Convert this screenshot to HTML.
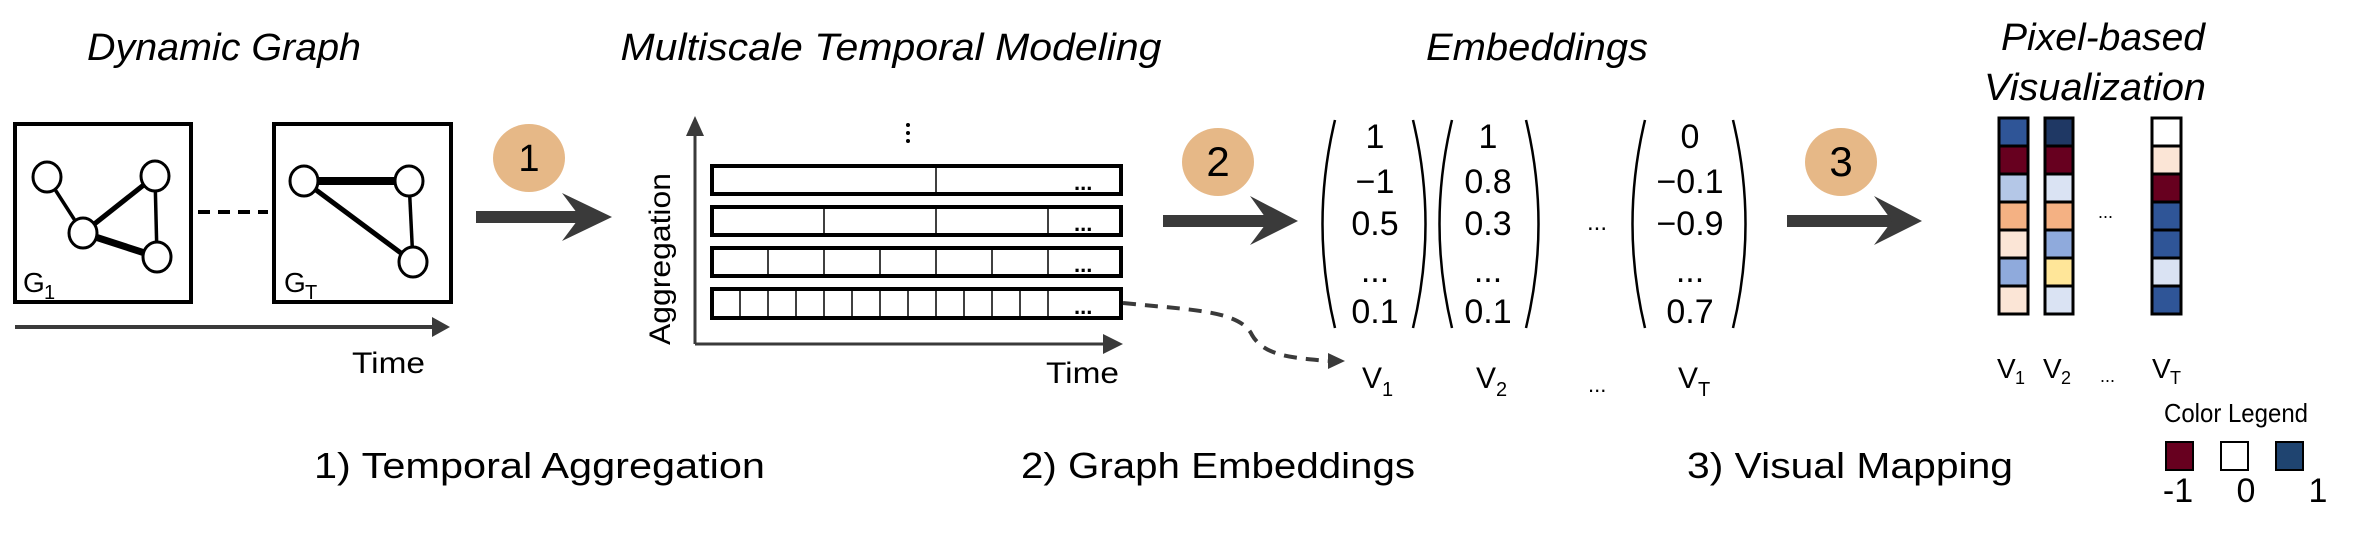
<!DOCTYPE html>
<html><head><meta charset="utf-8"><style>
html,body{margin:0;padding:0;background:#fff;}
svg{display:block;}
text{font-family:"Liberation Sans",sans-serif;fill:#000;}
</style></head><body>
<svg width="2375" height="535" viewBox="0 0 2375 535" xmlns="http://www.w3.org/2000/svg">
<!-- Titles -->
<text x="224" y="60" font-size="38" font-style="italic" text-anchor="middle" textLength="274" lengthAdjust="spacingAndGlyphs">Dynamic Graph</text>
<text x="891" y="60" font-size="38" font-style="italic" text-anchor="middle" textLength="541" lengthAdjust="spacingAndGlyphs">Multiscale Temporal Modeling</text>
<text x="1537" y="60" font-size="38" font-style="italic" text-anchor="middle" textLength="222" lengthAdjust="spacingAndGlyphs">Embeddings</text>
<text x="2103" y="50" font-size="38" font-style="italic" text-anchor="middle" textLength="204" lengthAdjust="spacingAndGlyphs">Pixel-based</text>
<text x="2095" y="100" font-size="38" font-style="italic" text-anchor="middle" textLength="222" lengthAdjust="spacingAndGlyphs">Visualization</text>

<!-- Graph boxes -->
<rect x="15" y="124" width="176" height="178" fill="none" stroke="#000" stroke-width="4"/>
<rect x="274" y="124" width="177" height="178" fill="none" stroke="#000" stroke-width="4"/>
<line x1="198" y1="212" x2="268" y2="212" stroke="#000" stroke-width="4" stroke-dasharray="12,8"/>
<g stroke="#000" fill="#fff">
<line x1="47" y1="177" x2="83" y2="233" stroke-width="3.5"/>
<line x1="83" y1="233" x2="155" y2="176" stroke-width="5"/>
<line x1="155" y1="176" x2="157" y2="257" stroke-width="3.5"/>
<line x1="83" y1="233" x2="157" y2="257" stroke-width="7"/>
<ellipse cx="47" cy="177" rx="14" ry="15" stroke-width="3"/>
<ellipse cx="155" cy="176" rx="14" ry="15" stroke-width="3"/>
<ellipse cx="83" cy="233" rx="14" ry="15" stroke-width="3"/>
<ellipse cx="157" cy="257" rx="14" ry="15" stroke-width="3"/>
<line x1="304" y1="181" x2="409" y2="181" stroke-width="8"/>
<line x1="304" y1="181" x2="413" y2="262" stroke-width="5"/>
<line x1="409" y1="181" x2="413" y2="262" stroke-width="3.5"/>
<ellipse cx="304" cy="181" rx="14" ry="15" stroke-width="3"/>
<ellipse cx="409" cy="181" rx="14" ry="15" stroke-width="3"/>
<ellipse cx="413" cy="262" rx="14" ry="15" stroke-width="3"/>
</g>
<text x="23" y="292" font-size="28">G</text><text x="44" y="299" font-size="20">1</text>
<text x="284" y="292" font-size="28">G</text><text x="305" y="299" font-size="20">T</text>
<!-- time arrow -->
<line x1="15" y1="327" x2="435" y2="327" stroke="#3a3a3a" stroke-width="4"/>
<polygon points="432,317 450,327 432,337" fill="#3a3a3a"/>
<text x="352" y="373" font-size="30" textLength="73" lengthAdjust="spacingAndGlyphs">Time</text>

<!-- circles + arrows -->
<ellipse cx="529" cy="158" rx="36" ry="34" fill="#E6B887"/>
<text x="529" y="171" font-size="38" text-anchor="middle">1</text>
<ellipse cx="1218" cy="162" rx="36" ry="34" fill="#E6B887"/>
<text x="1218" y="176" font-size="42" text-anchor="middle">2</text>
<ellipse cx="1841" cy="162" rx="36" ry="34" fill="#E6B887"/>
<text x="1841" y="176" font-size="42" text-anchor="middle">3</text>
<g fill="#3a3a3a">
<rect x="476" y="211" width="110" height="12"/>
<polygon points="562,193 612,217 562,241 580,217"/>
<rect x="1163" y="215" width="110" height="12"/>
<polygon points="1250,196 1298,221 1250,245 1268,221"/>
<rect x="1787" y="215" width="110" height="12"/>
<polygon points="1874,196 1922,221 1874,245 1892,221"/>
</g>

<!-- axes -->
<line x1="695" y1="125" x2="695" y2="344" stroke="#3a3a3a" stroke-width="3"/>
<polygon points="686,136 695,116 704,136" fill="#3a3a3a"/>
<line x1="695" y1="344" x2="1110" y2="344" stroke="#3a3a3a" stroke-width="3"/>
<polygon points="1103,334 1123,344 1103,354" fill="#3a3a3a"/>
<text transform="translate(670,259) rotate(-90)" font-size="30" text-anchor="middle" textLength="172" lengthAdjust="spacingAndGlyphs">Aggregation</text>
<text x="1046" y="383" font-size="30" textLength="73" lengthAdjust="spacingAndGlyphs">Time</text>
<g fill="#000"><circle cx="908" cy="125" r="2"/><circle cx="908" cy="133" r="2"/><circle cx="908" cy="141" r="2"/></g>

<!-- bars -->
<g fill="none" stroke="#000">
<rect x="712" y="166" width="409" height="28" stroke-width="4"/>
<rect x="712" y="207" width="409" height="28" stroke-width="4"/>
<rect x="712" y="248" width="409" height="28" stroke-width="4"/>
<rect x="712" y="289" width="409" height="29" stroke-width="4"/>
<g stroke-width="1.5">
<line x1="936" y1="166" x2="936" y2="194"/>
<line x1="824" y1="207" x2="824" y2="235"/><line x1="936" y1="207" x2="936" y2="235"/><line x1="1048" y1="207" x2="1048" y2="235"/>
<line x1="768" y1="248" x2="768" y2="276"/><line x1="824" y1="248" x2="824" y2="276"/><line x1="880" y1="248" x2="880" y2="276"/><line x1="936" y1="248" x2="936" y2="276"/><line x1="992" y1="248" x2="992" y2="276"/><line x1="1048" y1="248" x2="1048" y2="276"/>
<line x1="740" y1="289" x2="740" y2="318"/><line x1="768" y1="289" x2="768" y2="318"/><line x1="796" y1="289" x2="796" y2="318"/><line x1="824" y1="289" x2="824" y2="318"/><line x1="852" y1="289" x2="852" y2="318"/><line x1="880" y1="289" x2="880" y2="318"/><line x1="908" y1="289" x2="908" y2="318"/><line x1="936" y1="289" x2="936" y2="318"/><line x1="964" y1="289" x2="964" y2="318"/><line x1="992" y1="289" x2="992" y2="318"/><line x1="1020" y1="289" x2="1020" y2="318"/><line x1="1048" y1="289" x2="1048" y2="318"/>
</g></g>
<g font-size="22" font-weight="bold">
<text x="1074" y="190">...</text><text x="1074" y="231">...</text><text x="1074" y="272">...</text><text x="1074" y="314">...</text>
</g>
<!-- dashed curve -->
<path d="M1123,303 C1190,310 1240,310 1252,335 C1265,358 1300,358 1328,361" fill="none" stroke="#3a3a3a" stroke-width="4" stroke-dasharray="13,9"/>
<polygon points="1328,353 1345,361 1328,369" fill="#3a3a3a"/>

<!-- matrices -->
<g fill="none" stroke="#000" stroke-width="2.5">
<path d="M1335,120 Q1310,224 1335,328"/><path d="M1413,120 Q1438,224 1413,328"/>
<path d="M1452,120 Q1427,224 1452,328"/><path d="M1526,120 Q1551,224 1526,328"/>
<path d="M1645,120 Q1620,224 1645,328"/><path d="M1733,120 Q1758,224 1733,328"/>
</g>
<g font-size="34" text-anchor="middle">
<text x="1375" y="148">1</text><text x="1375" y="193">−1</text><text x="1375" y="235">0.5</text><text x="1375" y="282">...</text><text x="1375" y="323">0.1</text>
<text x="1488" y="148">1</text><text x="1488" y="193">0.8</text><text x="1488" y="235">0.3</text><text x="1488" y="282">...</text><text x="1488" y="323">0.1</text>
<text x="1690" y="148">0</text><text x="1690" y="193">−0.1</text><text x="1690" y="235">−0.9</text><text x="1690" y="282">...</text><text x="1690" y="323">0.7</text>
<text x="1597" y="230" font-size="24">...</text>
</g>
<g font-size="30">
<text x="1362" y="388">V</text><text x="1382" y="396" font-size="20">1</text>
<text x="1476" y="388">V</text><text x="1496" y="396" font-size="20">2</text>
<text x="1588" y="392" font-size="22">...</text>
<text x="1678" y="388">V</text><text x="1698" y="396" font-size="20">T</text>
</g>

<!-- pixel columns -->
<g stroke="#000" stroke-width="3">
<rect x="1999" y="118" width="29" height="28" fill="#2F5597"/>
<rect x="1999" y="146" width="29" height="28" fill="#67001F"/>
<rect x="1999" y="174" width="29" height="28" fill="#B4C7E7"/>
<rect x="1999" y="202" width="29" height="28" fill="#F4B183"/>
<rect x="1999" y="230" width="29" height="28" fill="#FBE5D6"/>
<rect x="1999" y="258" width="29" height="28" fill="#8FAADC"/>
<rect x="1999" y="286" width="29" height="28" fill="#FBE5D6"/>
<rect x="2045" y="118" width="28" height="28" fill="#1F3864"/>
<rect x="2045" y="146" width="28" height="28" fill="#67001F"/>
<rect x="2045" y="174" width="28" height="28" fill="#DAE3F3"/>
<rect x="2045" y="202" width="28" height="28" fill="#F4B183"/>
<rect x="2045" y="230" width="28" height="28" fill="#8FAADC"/>
<rect x="2045" y="258" width="28" height="28" fill="#FFE699"/>
<rect x="2045" y="286" width="28" height="28" fill="#DAE3F3"/>
<rect x="2152" y="118" width="29" height="28" fill="#FFFFFF"/>
<rect x="2152" y="146" width="29" height="28" fill="#FBE5D6"/>
<rect x="2152" y="174" width="29" height="28" fill="#67001F"/>
<rect x="2152" y="202" width="29" height="28" fill="#2F5597"/>
<rect x="2152" y="230" width="29" height="28" fill="#2F5597"/>
<rect x="2152" y="258" width="29" height="28" fill="#DAE3F3"/>
<rect x="2152" y="286" width="29" height="28" fill="#2F5597"/>
</g>
<text x="2098" y="218" font-size="18">...</text>
<g font-size="28">
<text x="1997" y="378">V</text><text x="2015" y="384" font-size="18">1</text>
<text x="2043" y="378">V</text><text x="2061" y="384" font-size="18">2</text>
<text x="2100" y="382" font-size="18">...</text>
<text x="2152" y="378">V</text><text x="2170" y="384" font-size="18">T</text>
</g>

<!-- legend -->
<text x="2236" y="422" font-size="26" text-anchor="middle" textLength="144" lengthAdjust="spacingAndGlyphs">Color Legend</text>
<rect x="2166" y="442" width="27" height="28" fill="#67001F" stroke="#000" stroke-width="2"/>
<rect x="2221" y="442" width="27" height="28" fill="#fff" stroke="#000" stroke-width="2"/>
<rect x="2276" y="442" width="27" height="28" fill="#1F4470" stroke="#000" stroke-width="2"/>
<g font-size="34" text-anchor="middle">
<text x="2178" y="502">-1</text><text x="2246" y="502">0</text><text x="2318" y="502">1</text>
</g>

<!-- captions -->
<g font-size="36">
<text x="314" y="478" textLength="451" lengthAdjust="spacingAndGlyphs">1) Temporal Aggregation</text>
<text x="1021" y="478" textLength="394" lengthAdjust="spacingAndGlyphs">2) Graph Embeddings</text>
<text x="1687" y="478" textLength="326" lengthAdjust="spacingAndGlyphs">3) Visual Mapping</text>
</g>
</svg>
</body></html>
